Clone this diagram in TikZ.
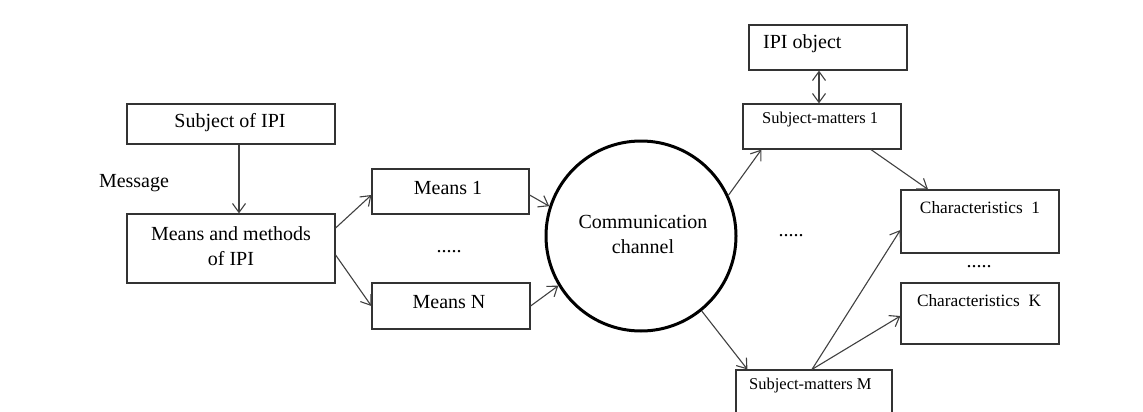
\documentclass[tikz,border=0pt]{standalone}
\usepackage{fontspec}
\setmainfont{Liberation Serif}
\usetikzlibrary{arrows.meta}
\begin{document}
\begin{tikzpicture}[x=1pt,y=-1pt,
  box/.style={draw=black!80, line width=1.2pt, inner sep=0pt, anchor=center},
  tip/.style={Straight Barb[length=9pt,width=13pt,line width=1.1pt]},
  conn/.style={draw=black!75, line width=1.1pt, -{Straight Barb[length=9pt,width=13pt]}},
  dconn/.style={draw=black!75, line width=1.1pt, {Straight Barb[length=9pt,width=13pt]}-{Straight Barb[length=9pt,width=13pt]}},
  txt/.style={font=\fontsize{20}{25}\selectfont, inner sep=0pt, align=center},
  small/.style={font=\fontsize{16.5}{19}\selectfont, inner sep=0pt},
  mid/.style={font=\fontsize{17.3}{22}\selectfont, inner sep=0pt}]
\useasboundingbox (0,0) rectangle (1143,412);
\clip (0,0) rectangle (1143,412);

% boxes
\node[box, minimum width=208pt, minimum height=40pt] (subj) at (231,124) {};
\node[box, minimum width=208pt, minimum height=69pt] (mm) at (231,248.5) {};
\node[box, minimum width=157pt, minimum height=45pt] (m1) at (450.5,191.5) {};
\node[box, minimum width=158pt, minimum height=46pt] (mN) at (451,306) {};
\node[draw=black, line width=3pt, circle, minimum size=190pt, inner sep=0pt] (cc) at (641,236) {};
\node[box, minimum width=158pt, minimum height=45pt] (ipi) at (828,47.5) {};
\node[box, minimum width=158pt, minimum height=45pt] (sm1) at (822,126.5) {};
\node[box, minimum width=158pt, minimum height=63pt] (c1) at (980,221.5) {};
\node[box, minimum width=158pt, minimum height=61pt] (cK) at (980,313.5) {};
\node[box, minimum width=156pt, minimum height=60pt] (smM) at (814,400) {};

% texts
\node[txt] (tsubj) at (230,123) {Subject of IPI};
\node[txt] (tmm) at (231,246) {Means and methods\\of IPI};
\node[txt] (tmsg) at (134,183) {Message};
\node[txt] (tm1) at (448,188) {Means 1};
\node[txt] (tmN) at (449,302) {Means N};
\node[txt] (dots1) at (449,252) {.....};
\node[txt] (tcc) at (643,234) {Communication\\channel};
\node[txt, anchor=west] (tipi) at (763,44) {IPI object};
\node[small, anchor=west] (tsm1) at (762,120) {Subject-matters 1};
\node[small, anchor=west] (tsmM) at (749,386) {Subject-matters M};
\node[mid] (tc1) at (980,208) {Characteristics\ \ 1};
\node[mid] (tcK) at (979,301) {Characteristics\ \ K};
\node[txt] (dots2) at (791,236) {.....};
\node[txt] (dots3) at (979,267) {.....};

% connectors
\draw[conn] ([xshift=8pt]subj.south) -- ([xshift=8pt]mm.north);
\draw[conn] ([yshift=20.5pt]mm.east) -- ([yshift=-3.5pt]m1.west);
\draw[conn] ([yshift=-6.5pt]mm.east) -- (mN.west);
\draw[conn] ([yshift=-3.5pt]m1.east) -- (cc.162);
\draw[conn] (mN.east) -- (cc.211);
\draw[conn] (cc.25) -- ([xshift=19pt]sm1.south west);
\draw[conn] (cc.-51) -- ([xshift=12pt]smM.north west);
\draw[dconn] ([xshift=-9pt]ipi.south) -- ([xshift=-3pt]sm1.north);
\draw[conn] ([xshift=49pt]sm1.south) -- ([xshift=-52pt]c1.north);
\draw[conn] ([xshift=-2pt]smM.north) -- ([yshift=-8.5pt]c1.west);
\draw[conn] ([xshift=-2pt]smM.north) -- ([yshift=-2.5pt]cK.west);
\end{tikzpicture}
\end{document}
